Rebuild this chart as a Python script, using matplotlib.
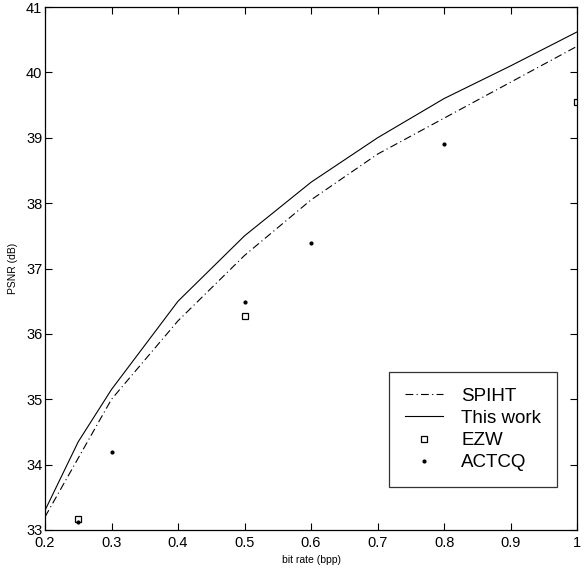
import matplotlib
matplotlib.use("Agg")
import matplotlib.pyplot as plt

plt.rcParams["font.family"] = ["Liberation Sans", "DejaVu Sans"]

# ---- data
rate = [0.2, 0.25, 0.3, 0.4, 0.5, 0.6, 0.7, 0.8, 0.9, 1.0]
spiht = [33.2, 34.1, 35.0, 36.2, 37.2, 38.05, 38.75, 39.3, 39.85, 40.4]
this_work = [33.3, 34.35, 35.15, 36.5, 37.5, 38.32, 39.0, 39.6, 40.1, 40.62]

ezw_rate = [0.25, 0.5, 1.0]
ezw = [33.17, 36.28, 39.55]

actcq_rate = [0.25, 0.3, 0.5, 0.6, 0.8]
actcq = [33.12, 34.2, 36.49, 37.39, 38.9]

fig = plt.figure(figsize=(5.86, 5.74), dpi=100)
ax = fig.add_axes([0.0768, 0.0767, 0.908, 0.911])

ax.plot(rate, spiht, color="black", lw=0.8, ls=(0, (7, 3, 1, 3)), label="SPIHT")
ax.plot(rate, this_work, color="black", lw=0.8, ls="-", label="This work")
ax.plot(ezw_rate, ezw, ls="none", marker="s", ms=5, mfc="white", mec="black",
        mew=0.9, label="EZW")
ax.plot(actcq_rate, actcq, ls="none", marker=".", ms=4, color="black", label="ACTCQ")

ax.set_xlim(0.2, 1.0)
ax.set_ylim(33, 41)
ax.set_xticks([0.2, 0.3, 0.4, 0.5, 0.6, 0.7, 0.8, 0.9, 1.0])
ax.set_xticklabels(["0.2", "0.3", "0.4", "0.5", "0.6", "0.7", "0.8", "0.9", "1"])
ax.set_yticks(range(33, 42))
ax.tick_params(direction="in", length=5, width=0.8, labelsize=10.5,
               top=True, right=True, pad=2)
ax.tick_params(axis="x", pad=4)
for sp in ax.spines.values():
    sp.set_linewidth(0.9)

ax.set_xlabel("bit rate (bpp)", fontsize=7.5, labelpad=4)
ax.set_ylabel("PSNR (dB)", fontsize=7.5, labelpad=6)

leg = ax.legend(loc="lower right", bbox_to_anchor=(0.962, 0.082), fontsize=13.5,
                frameon=True, fancybox=False, edgecolor="black",
                handlelength=2.05, handletextpad=0.95, borderpad=0.84,
                labelspacing=0.27, borderaxespad=0)
leg.get_frame().set_linewidth(0.9)

fig.savefig("out.png", dpi=100)
